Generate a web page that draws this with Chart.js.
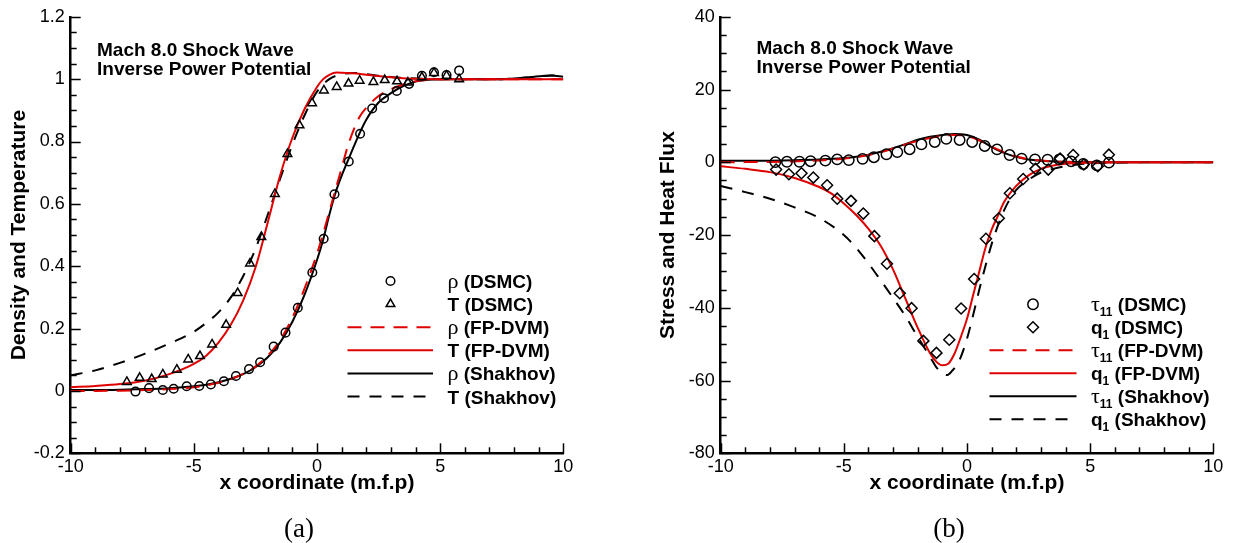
<!DOCTYPE html>
<html lang="en">
<head>
<meta charset="UTF-8">
<title>Mach 8.0 Shock Wave - Inverse Power Potential</title>
<script src="https://cdn.jsdelivr.net/npm/chart.js"></script>
<style>
  body { margin: 0; background: #fff; }
  .panel { position: absolute; top: 0; height: 543px; }
  #wrapA { left: 0; width: 617px; }
  #wrapB { left: 617px; width: 618px; }
  .cap {
    position: absolute; top: 513px; width: 60px; text-align: center;
    font-family: "Liberation Serif", serif; font-size: 27px; line-height: 30px;
  }
</style>
</head>
<body>
<div class="panel" id="wrapA"><canvas id="chartA" width="617" height="543"></canvas></div>
<div class="panel" id="wrapB"><canvas id="chartB" width="618" height="543"></canvas></div>
<div class="cap" style="left:269px">(a)</div>
<div class="cap" style="left:919px">(b)</div>

<script>
// ---- tick values / labels ----
const xTickValues = [-10, -5, 0, 5, 10];
const xTickLabels = ['-10', '-5', '0', '5', '10'];
const leftYTickValues = [-0.2, 0, 0.2, 0.4, 0.6, 0.8, 1, 1.2];
const leftYTickLabels = ['-0.2', '0', '0.2', '0.4', '0.6', '0.8', '1', '1.2'];
const rightYTickValues = [-80, -60, -40, -20, 0, 20, 40];
const rightYTickLabels = ['-80', '-60', '-40', '-20', '0', '20', '40'];

const noteLines = ['Mach 8.0 Shock Wave', 'Inverse Power Potential'];

// ---- (a) density and temperature ----
const rhoDsmc = [[-7.37,-0.002],[-6.82,0.009],[-6.26,0.003],[-5.82,0.007],[-5.29,0.015],[-4.78,0.016],
  [-4.31,0.021],[-3.78,0.031],[-3.29,0.048],[-2.76,0.07],[-2.31,0.092],[-1.76,0.142],[-1.28,0.187],
  [-0.78,0.267],[-0.19,0.38],[0.27,0.488],[0.71,0.631],[1.29,0.736],[1.75,0.825],[2.24,0.906],
  [2.72,0.939],[3.24,0.962],[3.74,0.985],[4.26,1.011],[4.75,1.022],[5.26,1.013],[5.77,1.028]];
const tDsmc = [[-7.72,0.029],[-7.2,0.042],[-6.71,0.038],[-6.26,0.053],[-5.69,0.068],[-5.23,0.101],
  [-4.75,0.112],[-4.26,0.149],[-3.69,0.212],[-3.22,0.314],[-2.72,0.409],[-2.26,0.494],[-1.71,0.632],
  [-1.2,0.76],[-0.71,0.852],[-0.2,0.923],[0.28,0.964],[0.8,0.975],[1.28,0.986],[1.73,0.995],
  [2.29,0.991],[2.75,0.997],[3.25,0.993],[3.69,0.989],[4.26,1.006],[4.75,1.02],[5.26,1.011],[5.77,1.0]];
const rhoFpdvm = [[-10,0],[-9,0],[-8,0.001],[-7,0.003],[-6,0.006],[-5,0.012],[-4.5,0.018],[-4,0.026],
  [-3.5,0.038],[-3,0.055],[-2.5,0.078],[-2,0.113],[-1.5,0.163],[-1,0.235],[-0.5,0.33],[0,0.44],
  [0.25,0.505],[0.5,0.575],[0.75,0.645],[1,0.715],[1.25,0.785],[1.5,0.84],[1.75,0.882],[2,0.908],
  [2.5,0.946],[3,0.968],[3.5,0.983],[4,0.993],[4.5,0.998],[5,1],[6,1],[7,1],[8,1],[9,1],[10,1]];
const tFpdvm = [[-10,0.012],[-9,0.016],[-8,0.022],[-7,0.033],[-6,0.054],[-5,0.087],[-4.5,0.113],
  [-4,0.155],[-3.5,0.212],[-3,0.29],[-2.5,0.395],[-2,0.54],[-1.5,0.69],[-1,0.812],[-0.5,0.905],
  [0,0.975],[0.25,1.0],[0.5,1.014],[0.8,1.021],[1.2,1.02],[1.6,1.018],[2,1.014],[2.5,1.01],[3,1.006],
  [3.5,1.003],[4,1.001],[5,1],[6,1],[7,1],[8,1],[9,1],[10,1]];
const rhoShakhov = [[-10,0.003],[-9,0.003],[-8,0.004],[-7,0.006],[-6,0.009],[-5,0.015],[-4.5,0.02],
  [-4,0.028],[-3.5,0.039],[-3,0.054],[-2.5,0.076],[-2,0.108],[-1.5,0.155],[-1,0.222],[-0.5,0.31],
  [0,0.42],[0.25,0.485],[0.5,0.565],[0.75,0.635],[1,0.69],[1.25,0.738],[1.5,0.785],[1.75,0.83],
  [2,0.87],[2.5,0.925],[3,0.955],[3.5,0.978],[4,0.992],[4.5,0.998],[5,1],[6,1],[7,1],[7.5,1],
  [8,1.002],[8.5,1.005],[9,1.009],[9.5,1.012],[10,1.008]];
const tShakhov = [[-10,0.05],[-9,0.066],[-8,0.09],[-7,0.119],[-6,0.152],[-5,0.19],[-4.5,0.218],
  [-4,0.252],[-3.5,0.3],[-3,0.368],[-2.5,0.455],[-2,0.565],[-1.5,0.68],[-1,0.79],[-0.5,0.885],
  [0,0.96],[0.5,1.0],[1,1.016],[1.5,1.02],[2,1.016],[2.5,1.011],[3,1.007],[3.5,1.004],[4,1.002],
  [5,1],[6,1],[7,1],[7.5,1],[8,1.002],[8.5,1.005],[9,1.009],[9.5,1.012],[10,1.01]];

// ---- (b) stress and heat flux ----
const tauDsmc = [[-7.78,0.05],[-7.31,0.15],[-6.8,0.15],[-6.35,0.3],[-5.75,0.45],[-5.27,0.8],[-4.8,0.6],
  [-4.24,0.95],[-3.78,1.4],[-3.27,2.2],[-2.83,2.8],[-2.33,3.6],[-1.85,4.95],[-1.31,5.6],[-0.84,6.45],
  [-0.3,6.15],[0.21,5.6],[0.72,4.5],[1.22,3.55],[1.73,2.0],[2.22,1.0],[2.76,0.8],[3.27,0.7],[3.75,0.8],
  [4.23,0.25],[4.72,-0.45],[5.27,-0.85],[5.76,-0.1]];
const qDsmc = [[-7.75,-2.0],[-7.23,-3.3],[-6.72,-3.0],[-6.24,-4.2],[-5.68,-6.3],[-5.27,-10.0],
  [-4.71,-10.6],[-4.21,-14.1],[-3.76,-20.3],[-3.25,-27.9],[-2.73,-36.0],[-2.25,-40.1],[-1.77,-49.1],
  [-1.24,-52.4],[-0.72,-48.8],[-0.24,-40.2],[0.29,-32.1],[0.77,-21.0],[1.29,-15.4],[1.74,-8.5],
  [2.28,-4.6],[2.78,-1.8],[3.3,-2.0],[3.78,1.0],[4.31,2.0],[4.74,-0.6],[5.31,-1.1],[5.76,2.1]];
const tauFpdvm = [[-10,0],[-9,0.05],[-8,0.1],[-7,0.25],[-6,0.5],[-5,1.0],[-4.5,1.4],[-4,2.0],[-3.5,2.8],
  [-3,3.8],[-2.5,4.9],[-2,5.9],[-1.5,6.7],[-1,7.3],[-0.5,7.5],[0,7.2],[0.5,6.0],[1,4.3],[1.5,2.8],
  [2,1.6],[2.5,0.9],[3,0.5],[3.5,0.25],[4,0.1],[5,0],[6,0],[8,0],[10,0]];
const qFpdvm = [[-10,-1.1],[-9,-1.8],[-8,-2.7],[-7,-4.3],[-6,-6.8],[-5.5,-8.6],[-5,-11.3],[-4.5,-14.5],
  [-4,-18.3],[-3.5,-23.0],[-3,-29.5],[-2.5,-37.5],[-2,-45.5],[-1.5,-52.5],[-1.25,-54.8],[-1,-55.8],
  [-0.75,-55.3],[-0.5,-52.5],[-0.25,-48.0],[0,-43.0],[0.25,-36.5],[0.5,-30.0],[0.75,-23.5],[1,-18.5],
  [1.25,-14.8],[1.5,-11.0],[2,-6.5],[2.5,-3.6],[3,-1.8],[3.5,-0.9],[4,-0.4],[5,-0.1],[6,0],[8,0],[10,0]];
const tauShakhov = [[-10,0.4],[-9,0.42],[-8,0.45],[-7,0.55],[-6,0.75],[-5,1.15],[-4.5,1.5],[-4,2.1],
  [-3.5,2.9],[-3,3.9],[-2.5,5.0],[-2,6.2],[-1.5,7.0],[-1,7.5],[-0.5,7.8],[0,7.5],[0.5,6.2],[1,4.2],
  [1.5,2.6],[2,1.5],[2.5,0.8],[3,0.45],[3.5,0.25],[4,0.12],[5,0.02],[6,0],[8,0],[10,0]];
const qShakhov = [[-10,-6.5],[-9,-8.2],[-8,-10.0],[-7,-12.4],[-6,-15.3],[-5,-20.0],[-4.5,-23.5],
  [-4,-27.8],[-3.5,-32.5],[-3,-37.3],[-2.5,-42.3],[-2,-48.0],[-1.5,-53.5],[-1.25,-56.3],[-1,-58.0],
  [-0.8,-58.5],[-0.6,-57.3],[-0.3,-54.3],[0,-48.5],[0.25,-42.0],[0.5,-35.0],[0.75,-28.5],[1,-22.5],
  [1.25,-17.5],[1.5,-13.3],[1.75,-10.0],[2,-7.6],[2.5,-4.8],[3,-2.8],[3.5,-1.8],[4,-1.1],[4.5,-0.6],
  [5,-0.3],[6,-0.1],[7,0],[8,0],[10,0]];

const RED = '#e00000';
const SANS = '"Liberation Sans", Arial, Helvetica, sans-serif';
const tickFont = { family: SANS, size: 18 };
const titleFont = { family: SANS, size: 21, weight: 'bold', lineHeight: 1 };

const toXY = arr => arr.map(p => ({ x: p[0], y: p[1] }));

function markers(label, data, style, radius) {
  return {
    label, data: toXY(data), showLine: false,
    pointStyle: style, pointRadius: radius, pointBorderWidth: 1.5,
    pointBorderColor: '#000', pointBackgroundColor: 'rgba(0,0,0,0)',
    borderColor: '#000'
  };
}
function curve(label, data, color, dash) {
  return {
    label, data: toXY(data), showLine: true, pointRadius: 0,
    borderColor: color, borderWidth: 2, borderDash: dash || [],
    cubicInterpolationMode: 'monotone', fill: false
  };
}

// label like 'ρ (DSMC)' or 'q_1 (DSMC)'; greek head in a plain serif face, subscripts small
function drawLabel(ctx, text, x, y) {
  const m = text.match(/^(\S)(?:_(\d+))?(.*)$/);
  const head = m[1], sub = m[2], rest = m[3];
  const greek = /[\u0370-\u03ff]/.test(head);
  const base = y + 7;
  ctx.fillStyle = '#000';
  ctx.textBaseline = 'alphabetic';
  ctx.textAlign = 'left';
  ctx.font = greek ? '22px "Liberation Serif", serif' : 'bold 19px ' + SANS;
  ctx.fillText(head, x, base);
  x += ctx.measureText(head).width;
  if (sub) {
    ctx.font = 'bold 12px ' + SANS;
    ctx.fillText(sub, x, base + 5);
    x += ctx.measureText(sub).width;
  }
  ctx.font = 'bold 19px ' + SANS;
  ctx.fillText(rest, x, base);
}

const decor = {
  id: 'decor',
  afterDraw(chart, args, o) {
    const ctx = chart.ctx;
    const { left, bottom } = chart.chartArea;
    const sx = chart.scales.x, sy = chart.scales.y;
    ctx.save();
    ctx.strokeStyle = '#000';
    ctx.lineWidth = 1.5;
    ctx.setLineDash([]);
    // inward ticks
    const nx = Math.round((sx.max - sx.min) / o.xMinor);
    for (let i = 0; i <= nx; i++) {
      const px = Math.round(sx.getPixelForValue(sx.min + i * o.xMinor)) + 0.5;
      const len = i % o.xEvery === 0 ? 10 : 6;
      ctx.beginPath(); ctx.moveTo(px, bottom); ctx.lineTo(px, bottom - len); ctx.stroke();
    }
    const ny = Math.round((sy.max - sy.min) / o.yMinor);
    for (let i = 0; i <= ny; i++) {
      const py = Math.round(sy.getPixelForValue(sy.min + i * o.yMinor)) + 0.5;
      const len = i % o.yEvery === 0 ? 10 : 6;
      ctx.beginPath(); ctx.moveTo(left, py); ctx.lineTo(left + len, py); ctx.stroke();
    }
    // note text
    ctx.fillStyle = '#000';
    ctx.font = 'bold 19px ' + SANS;
    ctx.textBaseline = 'middle';
    noteLines.forEach((t, i) => ctx.fillText(t, o.noteX, o.noteY + i * o.noteGap));
    // legend
    const lg = o.legend;
    chart.data.datasets.forEach((ds, i) => {
      const y = lg.y0 + i * lg.gap;
      ctx.save();
      if (ds.showLine === false) {
        ctx.strokeStyle = '#000';
        ctx.fillStyle = 'rgba(0,0,0,0)';
        ctx.lineWidth = ds.pointBorderWidth;
        Chart.helpers.drawPoint(ctx, {
          pointStyle: ds.pointStyle, radius: ds.pointRadius,
          borderWidth: ds.pointBorderWidth, rotation: 0
        }, lg.xs, y);
      } else {
        ctx.strokeStyle = ds.borderColor;
        ctx.lineWidth = ds.borderWidth;
        ctx.setLineDash(ds.borderDash);
        ctx.beginPath(); ctx.moveTo(lg.x1, y); ctx.lineTo(lg.x2, y); ctx.stroke();
      }
      ctx.restore();
      drawLabel(ctx, ds.label, lg.xt, y);
    });
    ctx.restore();
  }
};

function axisX() {
  return {
    type: 'linear', min: -10, max: 10,
    afterBuildTicks: s => { s.ticks = xTickValues.map(v => ({ value: v })); },
    afterFit: s => { s.height = 40.5; },
    ticks: { callback: (v, i) => xTickLabels[i], font: tickFont, color: '#000', padding: 3,
             maxRotation: 0, autoSkip: false },
    grid: { display: false, drawTicks: false },
    border: { display: true, color: '#000', width: 2.5 },
    title: { display: true, text: 'x coordinate (m.f.p)', font: titleFont, color: '#000', padding: 0 }
  };
}
function axisY(min, max, values, labels, title, width) {
  return {
    type: 'linear', min, max,
    afterBuildTicks: s => { s.ticks = values.map(v => ({ value: v })); },
    afterFit: s => { s.width = width; },
    ticks: { callback: (v, i) => labels[i], font: tickFont, color: '#000', padding: 6, autoSkip: false },
    grid: { display: false, drawTicks: false },
    border: { display: true, color: '#000', width: 2.5 },
    title: { display: true, text: title, font: titleFont, color: '#000', padding: 0 }
  };
}

function build(id, datasets, yAxis, padding, decorOpts) {
  return new Chart(document.getElementById(id), {
    type: 'scatter',
    data: { datasets },
    options: {
      responsive: false,
      animation: false,
      events: [],
      layout: { padding },
      scales: { x: axisX(), y: yAxis },
      plugins: { legend: { display: false }, tooltip: { enabled: false }, decor: decorOpts }
    },
    plugins: [decor]
  });
}

build('chartA', [
    markers('ρ (DSMC)', rhoDsmc, 'circle', 4.3),
    markers('T (DSMC)', tDsmc, 'triangle', 5),
    curve('ρ (FP-DVM)', rhoFpdvm, RED, [14, 9]),
    curve('T (FP-DVM)', tFpdvm, RED),
    curve('ρ (Shakhov)', rhoShakhov, '#000'),
    curve('T (Shakhov)', tShakhov, '#000', [12, 10])
  ],
  axisY(-0.2, 1.2, leftYTickValues, leftYTickLabels, 'Density and Temperature', 61.9),
  { left: 8.8, right: 53.7, top: 15.7, bottom: 49.2 },
  { xMinor: 1, xEvery: 5, yMinor: 0.05, yEvery: 4,
    noteX: 97, noteY: 51, noteGap: 19,
    legend: { xs: 390.5, x1: 347.5, x2: 433, xt: 447.5, y0: 281, gap: 23.1 } });

build('chartB', [
    markers('τ_11 (DSMC)', tauDsmc, 'circle', 5.2),
    markers('q_1 (DSMC)', qDsmc, 'rectRot', 5.5),
    curve('τ_11 (FP-DVM)', tauFpdvm, RED, [14, 9]),
    curve('q_1 (FP-DVM)', qFpdvm, RED),
    curve('τ_11 (Shakhov)', tauShakhov, '#000'),
    curve('q_1 (Shakhov)', qShakhov, '#000', [12, 10])
  ],
  axisY(-80, 40, rightYTickValues, rightYTickLabels, 'Stress and Heat Flux', 63.2),
  { left: 40.5, right: 21.7, top: 15.7, bottom: 49.2 },
  { xMinor: 1, xEvery: 5, yMinor: 5, yEvery: 4,
    noteX: 139.5, noteY: 48.5, noteGap: 19,
    legend: { xs: 416, x1: 372.5, x2: 459.5, xt: 474, y0: 304.3, gap: 23 } });
</script>
</body>
</html>
